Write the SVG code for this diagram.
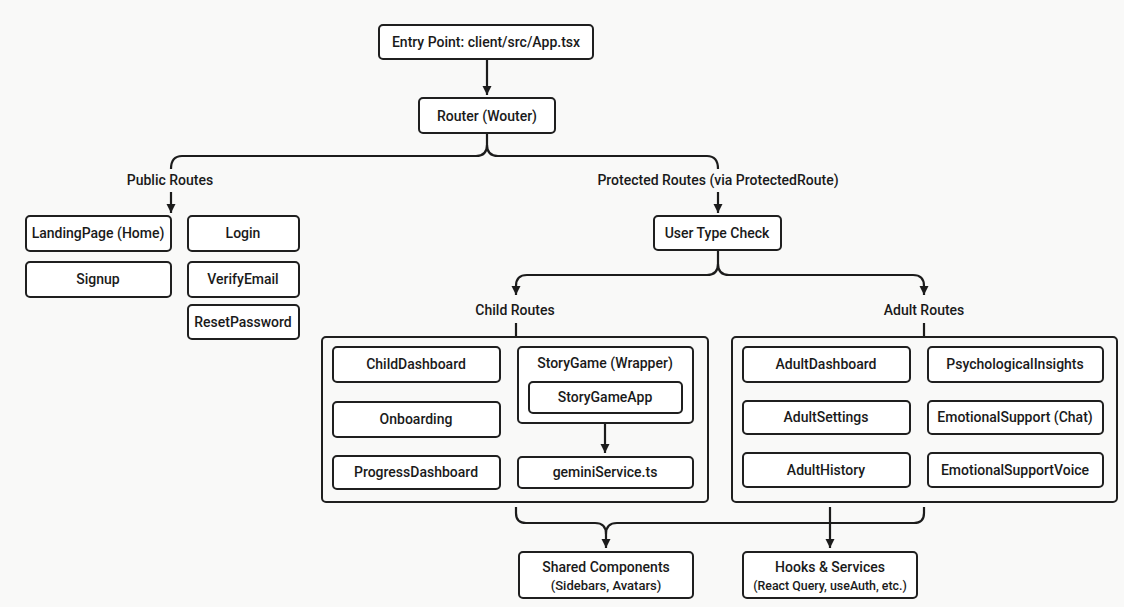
<svg xmlns="http://www.w3.org/2000/svg" width="1124" height="607" viewBox="0 0 1124 607">
<defs>
<marker id="ah" markerUnits="userSpaceOnUse" markerWidth="10" markerHeight="10" refX="9" refY="5" orient="auto">
<path d="M0,0.5 L9,5 L0,9.5 z" fill="#1c1c1c"/>
</marker>
<style>
.bx{fill:#ffffff;stroke:#1f1f1f;stroke-width:2}
.ct{fill:none;stroke:#1f1f1f;stroke-width:2}
.t{font-family:Roboto,"Liberation Sans",sans-serif;font-size:14px;font-weight:500;fill:#1a1a1a;text-anchor:middle;dominant-baseline:central}
.s{font-size:13px}
.s2{font-size:12.4px}
.ln{fill:none;stroke:#1c1c1c;stroke-width:2.2}
.ar{fill:none;stroke:#1c1c1c;stroke-width:2.2;marker-end:url(#ah)}
</style>
</defs>
<rect width="1124" height="607" fill="#f9f9f8"/>

<g id="connectors">
<path class="ar" d="M487,59 V95"/>
<path class="ln" d="M171,169 Q171,156 182,156 H476 Q487,156 487,145 V133"/>
<path class="ln" d="M718,169 Q718,156 707,156 H498 Q487,156 487,145"/>
<path class="ar" d="M171,192 V213"/>
<path class="ar" d="M718,192 V213"/>
<path class="ar" d="M718,250 V264 Q718,275 707,275 H527 Q516,275 516,286 V295"/>
<path class="ar" d="M718,264 Q718,275 729,275 H913 Q924,275 924,286 V295"/>
<path class="ln" d="M516,323 V337"/>
<path class="ln" d="M924,323 V337"/>
<path class="ar" d="M605,423 V453"/>
<path class="ar" d="M516,507 V513 Q516,523 526,523 H595 Q606,523 606,534 V548"/>
<path class="ln" d="M924,507 V513 Q924,523 914,523 H617 Q606,523 606,534"/>
<path class="ar" d="M830,507 V548"/>
</g>

<g id="entry"><rect class="bx" x="379" y="25" width="214" height="34" rx="4"/><text class="t" x="486" y="42">Entry Point: client/src/App.tsx</text></g>
<g id="router"><rect class="bx" x="419" y="98" width="136" height="35" rx="4"/><text class="t" x="487" y="116">Router (Wouter)</text></g>

<g id="public-routes"><text class="t" x="170" y="180">Public Routes</text></g>
<g id="protected-routes"><text class="t" x="718" y="180">Protected Routes (via ProtectedRoute)</text></g>

<g id="landing"><rect class="bx" x="26" y="216" width="145" height="35" rx="4"/><text class="t" x="98" y="233">LandingPage (Home)</text></g>
<g id="login"><rect class="bx" x="188" y="216" width="111" height="35" rx="4"/><text class="t" x="243" y="233">Login</text></g>
<g id="signup"><rect class="bx" x="26" y="262" width="145" height="35" rx="4"/><text class="t" x="98" y="279">Signup</text></g>
<g id="verify"><rect class="bx" x="188" y="262" width="111" height="35" rx="4"/><text class="t" x="243" y="279">VerifyEmail</text></g>
<g id="reset"><rect class="bx" x="188" y="305" width="111" height="34" rx="4"/><text class="t" x="243" y="322">ResetPassword</text></g>

<g id="usertype"><rect class="bx" x="654" y="216" width="127" height="34" rx="4"/><text class="t" x="717" y="233">User Type Check</text></g>

<g id="child-routes"><text class="t" x="515" y="310">Child Routes</text></g>
<g id="adult-routes"><text class="t" x="924" y="310">Adult Routes</text></g>

<g id="child-group"><rect class="ct" x="322" y="337" width="386" height="165" rx="4"/></g>
<g id="adult-group"><rect class="ct" x="732" y="337" width="385" height="165" rx="4"/></g>

<g id="childdashboard"><rect class="bx" x="333" y="347" width="167" height="35" rx="4"/><text class="t" x="416" y="364">ChildDashboard</text></g>
<g id="onboarding"><rect class="bx" x="333" y="402" width="167" height="35" rx="4"/><text class="t" x="416" y="419">Onboarding</text></g>
<g id="progress"><rect class="bx" x="333" y="456" width="167" height="33" rx="4"/><text class="t" x="416" y="472">ProgressDashboard</text></g>
<g id="storygame"><rect class="bx" x="518" y="347" width="175" height="76" rx="4"/><text class="t" x="605" y="363">StoryGame (Wrapper)</text></g>
<g id="storygameapp"><rect class="bx" x="529" y="382" width="153" height="31" rx="4"/><text class="t" x="605" y="397">StoryGameApp</text></g>
<g id="gemini"><rect class="bx" x="518" y="457" width="175" height="31" rx="4"/><text class="t" x="605" y="472">geminiService.ts</text></g>

<g id="adultdashboard"><rect class="bx" x="743" y="347" width="167" height="35" rx="4"/><text class="t" x="826" y="364">AdultDashboard</text></g>
<g id="adultsettings"><rect class="bx" x="743" y="401" width="167" height="33" rx="4"/><text class="t" x="826" y="417">AdultSettings</text></g>
<g id="adulthistory"><rect class="bx" x="743" y="453" width="167" height="34" rx="4"/><text class="t" x="826" y="470">AdultHistory</text></g>
<g id="psych"><rect class="bx" x="928" y="347" width="175" height="35" rx="4"/><text class="t" x="1015" y="364">PsychologicalInsights</text></g>
<g id="emochat"><rect class="bx" x="928" y="401" width="175" height="33" rx="4"/><text class="t" x="1015" y="417">EmotionalSupport (Chat)</text></g>
<g id="emovoice"><rect class="bx" x="928" y="453" width="175" height="34" rx="4"/><text class="t" x="1015" y="470">EmotionalSupportVoice</text></g>

<g id="shared"><rect class="bx" x="519" y="552" width="174" height="46" rx="4"/><text class="t" x="606" y="567">Shared Components</text><text class="t s" x="606" y="585">(Sidebars, Avatars)</text></g>
<g id="hooks"><rect class="bx" x="743" y="552" width="174" height="46" rx="4"/><text class="t" x="830" y="567">Hooks &amp; Services</text><text class="t s2" x="830" y="585">(React Query, useAuth, etc.)</text></g>
</svg>
